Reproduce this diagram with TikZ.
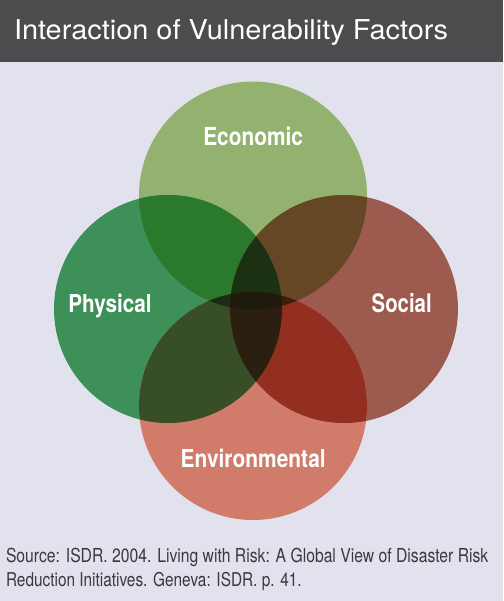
\documentclass[tikz,border=0pt]{standalone}
\usepackage{fontspec}
\setmainfont{TeX Gyre Heros}
\usepackage{graphicx}
\definecolor{bgcol}{HTML}{E2E2EE}
\definecolor{barcol}{HTML}{4C4C4E}
\definecolor{cE}{HTML}{93B26F}
\definecolor{cP}{HTML}{3D9058}
\definecolor{cS}{HTML}{9D5A4F}
\definecolor{cV}{HTML}{D17B6B}
\definecolor{cEP}{HTML}{2A792D}
\definecolor{cES}{HTML}{654725}
\definecolor{cPV}{HTML}{384E27}
\definecolor{cSV}{HTML}{932F20}
\definecolor{cEPS}{HTML}{1C3112}
\definecolor{cPSV}{HTML}{2A1F10}
\definecolor{cEPV}{HTML}{1E2A13}
\definecolor{cESV}{HTML}{3C1D10}
\definecolor{cALL}{HTML}{1E1A0D}
\definecolor{srccol}{HTML}{3A3A3C}
\begin{document}
\begin{tikzpicture}[x=1pt,y=-1pt,
  txt/.style={inner sep=0pt,outer sep=0pt,anchor=base west},
  lbl/.style={txt,text=white,font=\bfseries},
  src/.style={txt,text=srccol}]
\useasboundingbox (0,0) rectangle (503,601);
\fill[bgcol] (0,0) rectangle (503,601);
\fill[barcol] (0,0) rectangle (503,62);
\node[txt,text=white] (title) at (14,39.3) {\resizebox{434pt}{20pt}{Interaction of Vulnerability Factors}};
% circle centres
\coordinate (ec) at (253,195.5);
\coordinate (pc) at (168,309);
\coordinate (sc) at (344,309);
\coordinate (vc) at (253,406);
% single circles
\fill[cE] (ec) circle[radius=114];
\fill[cP] (pc) circle[radius=114];
\fill[cS] (sc) circle[radius=114];
\fill[cV] (vc) circle[radius=114];
% pairs
\begin{scope}
  \clip (ec) circle[radius=114];
  \fill[cEP] (pc) circle[radius=114];
  \fill[cES] (sc) circle[radius=114];
\end{scope}
\begin{scope}
  \clip (vc) circle[radius=114];
  \fill[cPV] (pc) circle[radius=114];
  \fill[cSV] (sc) circle[radius=114];
\end{scope}
% triples
\begin{scope}
  \clip (ec) circle[radius=114];
  \clip (pc) circle[radius=114];
  \fill[cEPS] (sc) circle[radius=114];
\end{scope}
\begin{scope}
  \clip (vc) circle[radius=114];
  \clip (pc) circle[radius=114];
  \fill[cPSV] (sc) circle[radius=114];
\end{scope}
\begin{scope}
  \clip (ec) circle[radius=114];
  \clip (vc) circle[radius=114];
  \fill[cEPV] (pc) circle[radius=114];
  \fill[cESV] (sc) circle[radius=114];
\end{scope}
% all four
\begin{scope}
  \clip (ec) circle[radius=114];
  \clip (vc) circle[radius=114];
  \clip (pc) circle[radius=114];
  \fill[cALL] (sc) circle[radius=114];
\end{scope}
% labels
\node[lbl] (econ) at (203.3,145.8) {\resizebox{99.7pt}{18.5pt}{Economic}};
\node[lbl] (phys) at (68.3,312.7) {\resizebox{83.4pt}{18.4pt}{Physical}};
\node[lbl] (soc) at (371.7,312.7) {\resizebox{60pt}{19pt}{Social}};
\node[lbl] (env) at (180.7,467.7) {\resizebox{145pt}{18.4pt}{Environmental}};
% source
\node[src] (src1) at (6,562.7) {\resizebox{482.3pt}{14.4pt}{Source: ISDR. 2004. Living with Risk: A Global View of Disaster Risk}};
\node[src] (src2) at (6,586.7) {\resizebox{295.7pt}{14.2pt}{Reduction Initiatives. Geneva: ISDR. p. 41.}};
\end{tikzpicture}
\end{document}
